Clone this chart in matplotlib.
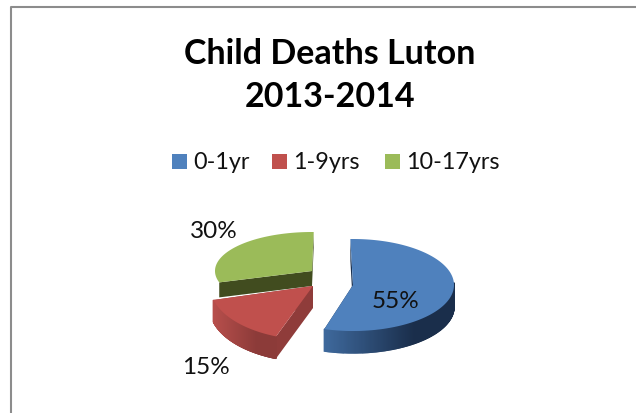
import numpy as np
import matplotlib
matplotlib.use("Agg")
import matplotlib.pyplot as plt
from matplotlib.colors import to_rgb
from matplotlib.patches import Polygon, Rectangle

title_lines = ["Child Deaths Luton", "2013-2014"]
categories = ["0-1yr", "1-9yrs", "10-17yrs"]
shares = [55, 15, 30]
labels = ["55%", "15%", "30%"]

top_colors = ["#4f81bd", "#c0504d", "#9bbb59"]
wall_left = ["#3f6a9e", "#b84f4c", "#5a6b2c"]
wall_right = ["#1a2e4b", "#8c3b39", "#3f4a1e"]
cut_colors = ["#1b3150", "#8f3c3a", "#414c1f"]

# apex x, apex y, rx, ry, depth, view turn for each exploded slice
slice_geom = [
    (353, 286, 101, 46, 22, -1.5),
    (313, 287, 103, 54, 22, 3),
    (312, 272, 97, 39, 15, 1),
]
label_pos = [(396, 302), (206, 368), (214, 232)]


def edge(cx, cy, rx, ry, a0, a1):
    a = np.radians(np.linspace(a0, a1, 300))
    return a, cx + rx * np.sin(a), cy - ry * np.cos(a)


def mix(c0, c1, t):
    return tuple((1 - t) * np.array(to_rgb(c0)) + t * np.array(to_rgb(c1)))


def draw_slice(ax, geom, a0, a1, i):
    cx, cy, rx, ry, d, turn = geom
    a, x, y = edge(cx, cy, rx, ry, a0 + turn, a1 + turn)

    # cut faces
    for ex, ey in [(x[0], y[0]), (x[-1], y[-1])]:
        ax.add_patch(Polygon([(cx, cy), (ex, ey), (ex, ey + d), (cx, cy + d)],
                             fc=cut_colors[i], ec="none", zorder=2))

    # outer wall, only the part facing us (green one is hidden by the red slice)
    front = np.where(np.cos(a) < 0.05)[0]
    if i != 2:
        xs = x[front]
        ys = y[front]
        order = np.argsort(xs)
        lo, hi = xs.min(), xs.max()
        for k in range(len(order) - 1):
            p, q = order[k], order[k + 1]
            t = min(((xs[p] + xs[q]) / 2 - lo) / (hi - lo) / 0.7, 1)
            c = mix(wall_left[i], wall_right[i], t)
            ax.add_patch(Polygon([(xs[p], ys[p]), (xs[q], ys[q]), (xs[q], ys[q] + d), (xs[p], ys[p] + d)],
                                 fc=c, ec=c, lw=1.0, zorder=3))

    # top face
    pts = [(cx, cy)] + list(zip(x, y))
    ax.add_patch(Polygon(pts, fc=top_colors[i], ec="none", zorder=4))


def main():
    plt.rcParams["font.family"] = ["Lato", "DejaVu Sans"]

    fig = plt.figure(figsize=(6.36, 4.14), dpi=100)
    ax = fig.add_axes([0, 0, 1, 1])
    ax.set_xlim(0, 636)
    ax.set_ylim(414, 0)
    ax.set_axis_off()

    # chart frame, cut off by the image at right and bottom
    ax.plot([11, 11, 636], [414, 7.5, 7.5], color="#8c8c8c", lw=1.5, zorder=1)

    for line, y in zip(title_lines, [54, 97]):
        ax.text(330, y, line, ha="center", va="center", fontsize=24.5, fontweight="bold", color="black")

    legend_x = [172, 272, 385]
    for name, color, x in zip(categories, top_colors, legend_x):
        ax.add_patch(Rectangle((x, 155), 15, 15, fc=color, ec="none"))
        ax.text(x + 21, 163, name, ha="left", va="center", fontsize=16.8, color="#111111")

    starts = np.cumsum([0] + shares[:-1]) * 3.6
    ends = np.cumsum(shares) * 3.6
    for i in [2, 1, 0]:
        draw_slice(ax, slice_geom[i], starts[i], ends[i], i)

    for text, (x, y) in zip(labels, label_pos):
        ax.text(x, y, text, ha="center", va="center", fontsize=17.5, color="#111111", zorder=6)

    fig.savefig("out.png", dpi=100)


if __name__ == "__main__":
    main()
